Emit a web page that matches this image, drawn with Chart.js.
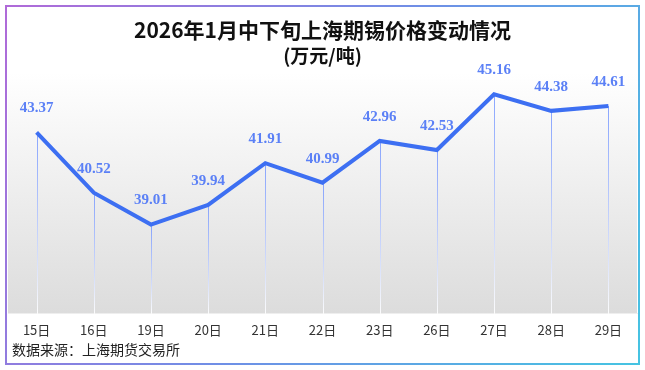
<!DOCTYPE html>
<html>
<head>
<meta charset="utf-8">
<script src="https://cdn.jsdelivr.net/npm/chart.js@4"></script>
<style>
  html, body { margin: 0; padding: 0; background: #fff; }
  #wrap { width: 645px; height: 370px; position: relative; }
</style>
</head>
<body>
<div id="wrap"><canvas id="tinChart" width="645" height="370"></canvas></div>
<script>
// 数据
const days = ['15日', '16日', '19日', '20日', '21日', '22日', '23日', '26日', '27日', '28日', '29日'];
const prices = [43.37, 40.52, 39.01, 39.94, 41.91, 40.99, 42.96, 42.53, 45.16, 44.38, 44.61];
const titleText = '2026年1月中下旬上海期锡价格变动情况';
const unitText = '(万元/吨)';
const sourceText = '数据来源：上海期货交易所';

const cjk = '"Noto Sans CJK SC", "Noto Sans", sans-serif';

// 外框 + 绘图区渐变背景 + 垂线 + 数值标签 + 数据来源
const decorPlugin = {
    id: 'decor',
    beforeDraw(chart) {
        const { ctx, chartArea } = chart;
        ctx.save();
        // 绘图区背景
        const bg = ctx.createLinearGradient(0, chartArea.top, 0, chartArea.bottom);
        bg.addColorStop(0, '#ffffff');
        bg.addColorStop(1, '#dcdcdc');
        ctx.fillStyle = bg;
        ctx.fillRect(chartArea.left, chartArea.top, chartArea.right - chartArea.left, chartArea.bottom - chartArea.top);
        // 外框
        const bd = ctx.createLinearGradient(5, 5, 640, 365);
        bd.addColorStop(0, '#b06ad8');
        bd.addColorStop(0.5, '#6f8fe6');
        bd.addColorStop(1, '#45c4e2');
        ctx.strokeStyle = bd;
        ctx.lineWidth = 2;
        ctx.strokeRect(6, 6, 633, 358);
        // 数据来源
        ctx.font = '14px ' + cjk;
        ctx.fillStyle = '#222';
        ctx.textAlign = 'left';
        ctx.textBaseline = 'middle';
        ctx.fillText(sourceText, 12, 350);
        ctx.restore();
    },
    beforeDatasetsDraw(chart) {
        const { ctx, chartArea } = chart;
        const meta = chart.getDatasetMeta(0);
        ctx.save();
        ctx.lineWidth = 1;
        meta.data.forEach(pt => {
            const g = ctx.createLinearGradient(0, pt.y, 0, chartArea.bottom);
            g.addColorStop(0, 'rgba(110,145,255,0.8)');
            g.addColorStop(1, 'rgba(255,255,255,0.9)');
            ctx.strokeStyle = g;
            ctx.beginPath();
            ctx.moveTo(Math.round(pt.x) + 0.5, pt.y);
            ctx.lineTo(Math.round(pt.x) + 0.5, chartArea.bottom);
            ctx.stroke();
        });
        ctx.restore();
    },
    afterDatasetsDraw(chart) {
        const { ctx } = chart;
        const meta = chart.getDatasetMeta(0);
        ctx.save();
        ctx.font = 'bold 15px "Liberation Serif", "Times New Roman", serif';
        ctx.fillStyle = '#5b80f6';
        ctx.textAlign = 'center';
        ctx.textBaseline = 'middle';
        meta.data.forEach((pt, i) => {
            ctx.fillText(prices[i].toFixed(2), pt.x, pt.y - 24);
        });
        ctx.restore();
    }
};

const ctx = document.getElementById('tinChart').getContext('2d');
const tinChart = new Chart(ctx, {
    type: 'line',
    data: {
        labels: days,
        datasets: [{
            data: prices,
            borderColor: '#3d6ff2',
            borderWidth: 4,
            pointRadius: 0,
            tension: 0,
            fill: false
        }]
    },
    options: {
        responsive: false,
        animation: false,
        layout: { padding: { left: 8, right: 8, top: 8, bottom: 24.6 } },
        plugins: {
            legend: { display: false },
            tooltip: { enabled: false },
            title: {
                display: true,
                text: titleText,
                color: '#111',
                font: { family: cjk, size: 21, weight: 'bold', lineHeight: 1.25 },
                padding: { top: 9, bottom: 0 }
            },
            subtitle: {
                display: true,
                text: unitText,
                color: '#111',
                font: { family: cjk, size: 19, weight: 'bold', lineHeight: 1.3 },
                padding: { top: 0, bottom: 5 }
            }
        },
        scales: {
            x: {
                offset: true,
                grid: { display: false, drawTicks: false },
                border: { display: true, color: '#eeeeee' },
                ticks: { color: '#333', font: { family: cjk, size: 13 }, padding: 8, maxRotation: 0, autoSkip: false }
            },
            y: {
                display: false,
                min: 34.8,
                max: 46.17
            }
        }
    },
    plugins: [decorPlugin]
});
</script>
</body>
</html>
